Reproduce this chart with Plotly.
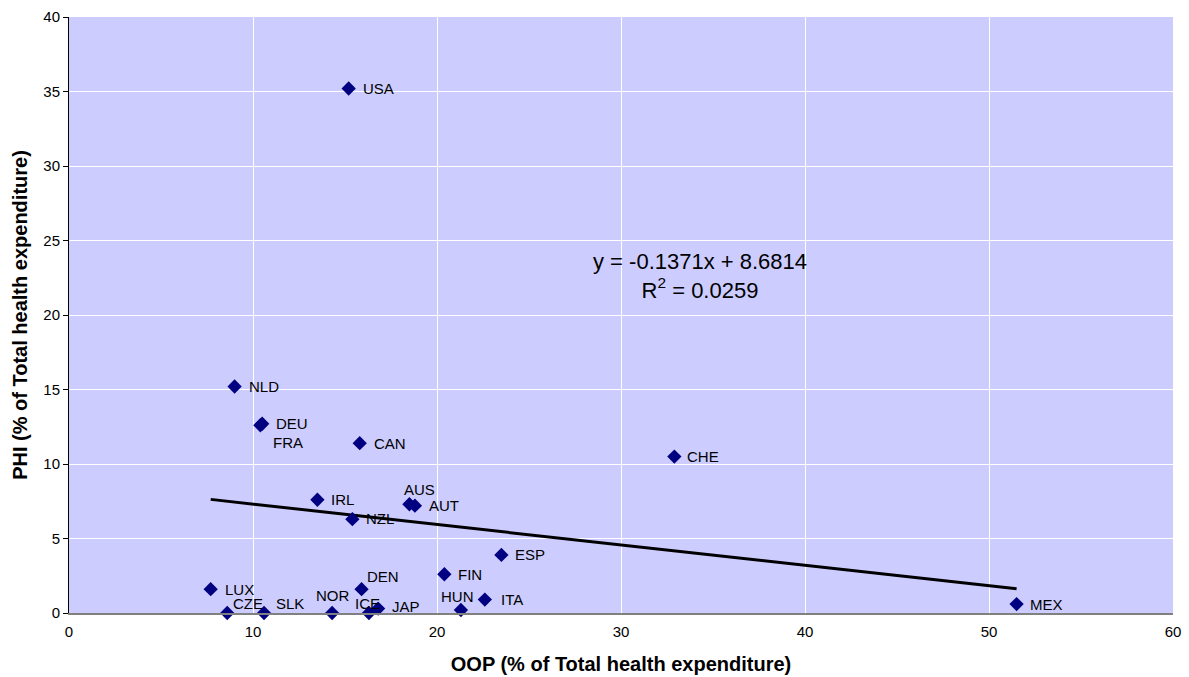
import plotly.graph_objects as go

countries = ["USA", "NLD", "DEU", "FRA", "CAN", "IRL", "NZL", "AUS", "AUT", "CHE",
             "ESP", "FIN", "HUN", "ITA", "MEX", "LUX", "CZE", "SLK", "NOR", "DEN",
             "ICE", "JAP"]
oop = [15.2, 9.0, 10.5, 10.4, 15.8, 13.5, 15.4, 18.5, 18.8, 32.9,
       23.5, 20.4, 21.3, 22.6, 51.5, 7.7, 8.6, 10.6, 14.3, 15.9,
       16.3, 16.8]
phi = [35.2, 15.2, 12.7, 12.6, 11.4, 7.6, 6.3, 7.3, 7.2, 10.5,
       3.9, 2.6, 0.2, 0.9, 0.6, 1.6, 0.0, 0.0, 0.0, 1.6,
       0.0, 0.3]
# label offsets in pixels (left edge of label relative to marker, and upward shift)
label_dx = [12, 12, 12, 11, 12, 12, 12, -7, 12, 11,
            12, 12, -22, 14, 11, 12, 4, 10, -18, 3,
            -16, 12]
label_dy = [0, 0, 0, -17, 0, 0, 1, 15, 0, 0,
            0, 0, 14, 0, 0, 0, 10, 10, 18, 13,
            10, 2]

slope = -0.1371
intercept = 8.6814
r2 = 0.0259
trend_x = [min(oop), max(oop)]
trend_y = [slope * v + intercept for v in trend_x]

fig = go.Figure()
fig.add_trace(go.Scatter(
    x=trend_x, y=trend_y, mode="lines",
    line=dict(color="black", width=3), hoverinfo="skip"))
fig.add_trace(go.Scatter(
    x=oop, y=phi, mode="markers", cliponaxis=False,
    marker=dict(symbol="diamond", size=11, color="#000080")))

for c, xv, yv, dx, dy in zip(countries, oop, phi, label_dx, label_dy):
    fig.add_annotation(
        x=xv, y=yv, xref="x", yref="y", text=c, showarrow=False,
        xanchor="left", yanchor="middle", xshift=dx, yshift=dy,
        font=dict(family="Liberation Sans, Arial", size=15, color="black"))

fig.add_annotation(
    x=34.3, y=22.6, xref="x", yref="y", showarrow=False,
    text=f"y = {slope}x + {intercept}<br>R<sup>2</sup> = {r2}",
    font=dict(family="Liberation Sans, Arial", size=22, color="black"),
    align="center")

fig.update_layout(
    width=1189, height=677,
    margin=dict(l=69, r=16, t=17, b=64),
    paper_bgcolor="white", plot_bgcolor="#CCCCFF",
    showlegend=False,
    font=dict(family="Liberation Sans, Arial", size=15, color="black"),
    xaxis=dict(range=[0, 60], dtick=10, showgrid=True, gridcolor="white", gridwidth=1,
               zeroline=False, showline=True, linecolor="#808080", linewidth=2,
               ticks="", tickfont=dict(size=15), automargin=False,
               ticklabelstandoff=4,
               title=dict(text="<b>OOP (% of Total health expenditure)</b>",
                          font=dict(size=20), standoff=18)),
    yaxis=dict(range=[0, 40], dtick=5, showgrid=True, gridcolor="white", gridwidth=1,
               zeroline=False, showline=True, linecolor="black", linewidth=1,
               ticks="outside", ticklen=5, tickcolor="black", tickfont=dict(size=15),
               automargin=False,
               title=dict(text="<b>PHI (% of Total health expenditure)</b>",
                          font=dict(size=20), standoff=10)),
)

fig.write_html("out.html", config={"displayModeBar": False},
               post_script="document.body.style.margin='0';document.body.style.overflow='hidden';")
